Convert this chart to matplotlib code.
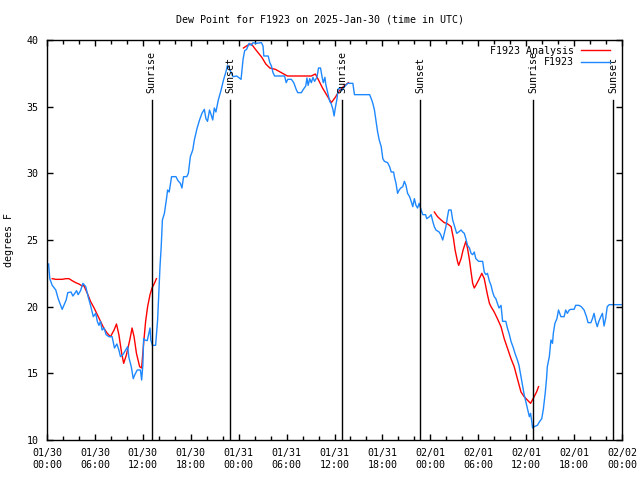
import numpy as np
import matplotlib
matplotlib.use("Agg")
import matplotlib.pyplot as plt

# Hours since 2025-01-30 00:00 UTC
obs_hours = [0.2, 0.35, 0.65, 1.1, 1.4, 1.9, 2.4, 2.6, 3.0, 3.25, 3.7, 3.9, 4.2, 4.5, 4.85, 5.15,
             5.45, 5.8, 6.1, 6.3, 6.5, 6.7, 6.9, 7.15, 7.4, 7.75, 8.15, 8.45, 8.75, 9.0, 9.2, 9.5,
             9.85, 10.1, 10.25, 10.55, 10.8, 11.0, 11.3, 11.7, 11.85, 12.0, 12.1, 12.25, 12.55,
             12.9, 13.0, 13.2, 13.6, 13.85, 14.0, 14.15, 14.3, 14.45, 14.7, 15.0, 15.1, 15.3,
             15.6, 16.15, 16.4, 16.7, 16.9, 17.1, 17.5, 17.7, 17.95, 18.25, 18.45, 18.8, 19.1,
             19.4, 19.7, 19.9, 20.1, 20.35, 20.55, 20.75, 20.95, 21.15, 21.45, 21.8, 22.1, 22.4,
             22.6, 22.8, 23.3, 23.75, 24.3, 24.55, 24.75, 25.0, 25.3, 25.6, 25.8, 26.2, 26.85,
             27.05, 27.15, 27.45, 27.7, 27.9, 28.1, 28.3, 28.5, 29.75, 29.95, 30.15, 30.6, 30.9,
             31.2, 31.4, 31.85, 32.1, 32.4, 32.55, 32.7, 32.9, 33.1, 33.3, 33.5, 33.8, 34.0,
             34.25, 34.45, 34.6, 34.8, 34.9, 35.15, 35.4, 35.6, 35.8, 35.95, 36.1, 36.3, 36.45,
             36.6, 36.9, 37.25, 37.65, 38.3, 38.5, 40.4, 40.6, 40.8, 41.0, 41.2, 41.4, 41.6,
             41.85, 42.05, 42.25, 42.65, 42.9, 43.1, 43.4, 43.5, 43.7, 43.9, 44.1, 44.3, 44.55,
             44.75, 44.95, 45.15, 45.4, 45.6, 45.8, 46.0, 46.2, 46.4, 46.6, 46.85, 47.05, 47.4,
             47.55, 47.9, 48.1, 48.3, 48.5, 48.7, 49.1, 49.3, 49.55, 49.75, 49.95, 50.15, 50.3,
             50.6, 50.8, 51.0, 51.3, 51.55, 51.85, 52.05, 52.25, 52.45, 52.65, 52.9, 53.1, 53.3,
             53.5, 53.7, 54.05, 54.55, 54.75, 54.95, 55.15, 55.4, 55.6, 55.8, 56.0, 56.2, 56.4,
             56.6, 56.85, 57.05, 57.45, 57.65, 57.9, 58.1, 58.4, 58.6, 58.9, 59.1, 59.35, 59.55,
             59.75, 59.95, 60.15, 60.4, 60.55, 60.7, 60.8, 61.0, 61.4, 61.7, 61.95, 62.15, 62.4,
             62.55, 62.65, 62.9, 63.1, 63.3, 63.4, 63.6, 63.85, 64.05, 64.35, 64.75, 64.95, 65.15,
             65.4, 65.6, 66.0, 66.2, 66.6, 66.9, 67.25, 67.55, 67.75, 68.1, 68.3, 68.5, 68.7,
             68.9, 69.1, 69.35, 69.55, 69.75, 69.95, 70.15, 70.4, 71.9]
obs_dewpt = [23.2, 22.1, 21.6, 21.25, 20.6, 19.8, 20.5, 21.05, 21.1, 20.8, 21.2, 20.9, 21.2, 21.75,
             21.5, 20.75, 20.1, 19.25, 19.5, 18.9, 18.6, 18.9, 18.25, 18.4, 17.9, 17.75, 17.75,
             16.9, 17.2, 16.75, 16.25, 16.4, 16.75, 17.0, 16.2, 15.5, 14.6, 14.9, 15.25, 15.25,
             14.5, 15.6, 17.6, 17.5, 17.45, 18.4, 17.5, 17.1, 17.1, 19.0, 21.0, 23.0, 24.5, 26.5,
             27.0, 28.25, 28.75, 28.6, 29.75, 29.75, 29.45, 29.25, 28.9, 29.75, 29.75, 30.0,
             31.25, 31.75, 32.5, 33.4, 34.0, 34.5, 34.8, 34.1, 33.9, 34.75, 34.4, 34.0, 34.9,
             34.6, 35.5, 36.25, 37.0, 37.6, 38.1, 37.9, 37.25, 37.3, 37.05, 38.55, 39.2, 39.3,
             39.75, 39.6, 39.8, 39.75, 39.8, 39.55, 38.8, 38.8, 38.8, 38.3, 38.05, 37.55, 37.3,
             37.3, 36.8, 37.05, 37.05, 36.8, 36.3, 36.05, 36.05, 36.3, 36.55, 37.15, 36.6, 37.1,
             36.8, 37.2, 36.9, 37.2, 37.9, 37.9, 37.2, 36.8, 37.2, 36.7, 36.05, 35.4, 35.2, 34.8,
             34.3, 34.9, 35.55, 36.3, 36.4, 36.2, 36.5, 36.75, 36.75, 35.9, 35.9, 35.6, 35.25,
             34.75, 33.9, 33.1, 32.5, 32.0, 31.1, 30.9, 30.8, 30.5, 30.1, 30.1, 29.75, 29.25,
             28.5, 28.75, 28.9, 29.0, 29.4, 29.1, 28.5, 28.25, 27.9, 27.5, 28.1, 27.6, 27.4,
             27.75, 27.25, 26.9, 26.9, 26.6, 26.75, 26.9, 26.4, 26.0, 25.75, 25.6, 25.4, 25.0,
             25.5, 26.0, 26.75, 27.25, 27.25, 26.5, 26.1, 25.5, 25.6, 25.75, 25.6, 25.5, 25.1,
             24.6, 24.4, 24.0, 23.9, 24.1, 23.6, 23.4, 23.4, 22.6, 22.4, 22.5, 21.9, 21.6, 21.1,
             20.75, 20.6, 20.25, 19.9, 20.1, 18.9, 18.9, 18.4, 17.9, 17.4, 16.9, 16.5, 16.0,
             15.6, 14.75, 14.1, 13.4, 12.9, 12.4, 11.75, 12.0, 11.4, 10.9, 11.0, 11.1, 11.4,
             11.6, 12.3, 13.6, 14.6, 15.5, 16.25, 17.5, 17.25, 18.0, 18.75, 19.1, 19.75, 19.25,
             19.25, 19.75, 19.5, 19.75, 19.8, 19.8, 20.1, 20.1, 20.0, 19.75, 19.25, 18.8, 18.8,
             19.1, 19.5, 18.9, 18.5, 18.9, 19.25, 19.5, 18.55, 19.1, 20.0, 20.15, 20.15]

ana_hours = [0.65, 1.1, 1.9, 2.35, 2.75, 3.15, 3.6, 4.0, 4.4, 4.6, 5.05, 5.45, 5.9, 6.3, 6.7, 7.1,
             7.55, 7.95, 8.4, 8.7, 9.0, 9.35, 9.6, 9.95, 10.4, 10.65, 10.9, 11.2, 11.6, 11.85,
             12.1, 12.35, 12.6, 12.9, 13.15, 13.45, 13.7,
             np.nan,
             24.6, 25.1, 25.6, 26.1, 26.9, 27.4, 27.9, 28.6, 29.5, 30.1, 31.6, 33.1, 33.6, 34.0,
             34.5, 35.1, 35.6, 36.1, 36.6, 37.1, 37.75,
             np.nan,
             48.5, 48.9, 49.35, 49.75, 50.05, 50.4, 50.6, 50.9, 51.1, 51.4, 51.55, 51.85, 52.1,
             52.45, 52.65, 52.9, 53.1, 53.3, 53.5, 53.7, 54.05, 54.45, 54.75, 54.95, 55.15, 55.4,
             55.6, 56.0, 56.4, 56.85, 57.25, 57.65, 58.1, 58.5, 58.9, 59.35, 59.75, 60.15, 60.55,
             61.0, 61.3, 61.55]
ana_dewpt = [22.1, 22.05, 22.05, 22.1, 22.1, 21.95, 21.8, 21.7, 21.55, 21.6, 21.0, 20.4, 19.9,
             19.4, 18.9, 18.4, 18.0, 17.75, 18.25, 18.7, 17.9, 16.5, 15.75, 16.4, 17.6, 18.4,
             17.75, 16.5, 15.5, 15.4, 17.25, 18.9, 20.0, 20.9, 21.4, 21.75, 22.1,
             np.nan,
             39.4, 39.6, 39.7, 39.3, 38.7, 38.2, 37.9, 37.8, 37.5, 37.3, 37.3, 37.3, 37.45, 37.0,
             36.4, 35.8, 35.3, 35.7, 36.2, 36.5, 36.8,
             np.nan,
             27.1, 26.75, 26.5, 26.3, 26.25, 26.1, 26.0, 25.1, 24.25, 23.4, 23.1, 23.6, 24.25,
             24.9, 24.4, 23.5, 22.6, 21.75, 21.4, 21.6, 22.0, 22.5, 22.1, 21.5, 20.9, 20.25, 20.0,
             19.6, 19.1, 18.5, 17.6, 16.9, 16.1, 15.5, 14.6, 13.6, 13.25, 13.0, 12.75, 13.25,
             13.6, 14.0]

sun_hours = [13.1, 22.9, 37.0, 46.75, 60.9, 70.9]
sun_labels = ["Sunrise", "Sunset", "Sunrise", "Sunset", "Sunrise", "Sunset"]

xtick_hours = [0, 6, 12, 18, 24, 30, 36, 42, 48, 54, 60, 66, 72]
xtick_labels = ["01/30\n00:00", "01/30\n06:00", "01/30\n12:00", "01/30\n18:00",
                "01/31\n00:00", "01/31\n06:00", "01/31\n12:00", "01/31\n18:00",
                "02/01\n00:00", "02/01\n06:00", "02/01\n12:00", "02/01\n18:00",
                "02/02\n00:00"]
ytick_vals = [10, 15, 20, 25, 30, 35, 40]

plt.rcParams['font.family'] = ['DejaVu Sans Mono']
FS = 7.2

fig = plt.figure(figsize=(6.4, 4.8), dpi=100)
ax = fig.add_axes([47/640, 1-440/480, 575/640, 400/480])

ax.plot(ana_hours, ana_dewpt, color='#ff0000', lw=1.0, label='F1923 Analysis')
ax.plot(obs_hours, obs_dewpt, color='#1e88ff', lw=1.0, label='F1923')

ymin, ymax = 10, 40
line_top = 35.5
for h, lab in zip(sun_hours, sun_labels):
    ax.axvline(h, ymin=0, ymax=(line_top - ymin) / (ymax - ymin), color='black', lw=1.0)
    ax.text(h, 36.0, lab, rotation=90, ha='center', va='bottom', fontsize=FS)

ax.set_xlim(0, 72)
ax.set_ylim(ymin, ymax)
ax.set_xticks(xtick_hours)
ax.set_xticklabels(xtick_labels, fontsize=FS)
ax.set_xticks(np.arange(0, 73, 2), minor=True)
ax.set_yticks(ytick_vals)
ax.set_yticklabels([str(v) for v in ytick_vals], fontsize=FS)
ax.tick_params(which='both', direction='in', top=True, right=True, width=1.0)
ax.tick_params(which='major', length=4.5, pad=6)
ax.tick_params(which='minor', length=3)
for s in ax.spines.values():
    s.set_linewidth(1.0)

ax.set_ylabel('degrees F', fontsize=FS)
ax.yaxis.set_label_coords(-33/575, 0.5)
fig.text(0.5, 1 - 19/480, 'Dew Point for F1923 on 2025-Jan-30 (time in UTC)',
         ha='center', va='center', fontsize=FS)

ax.legend(loc='upper right', bbox_to_anchor=(1 - 6/575, 1.0), frameon=False,
          markerfirst=False, fontsize=FS, handlelength=2.9, handletextpad=0.7,
          labelspacing=0.15, borderaxespad=0.2)

fig.savefig('out.png', dpi=100)
